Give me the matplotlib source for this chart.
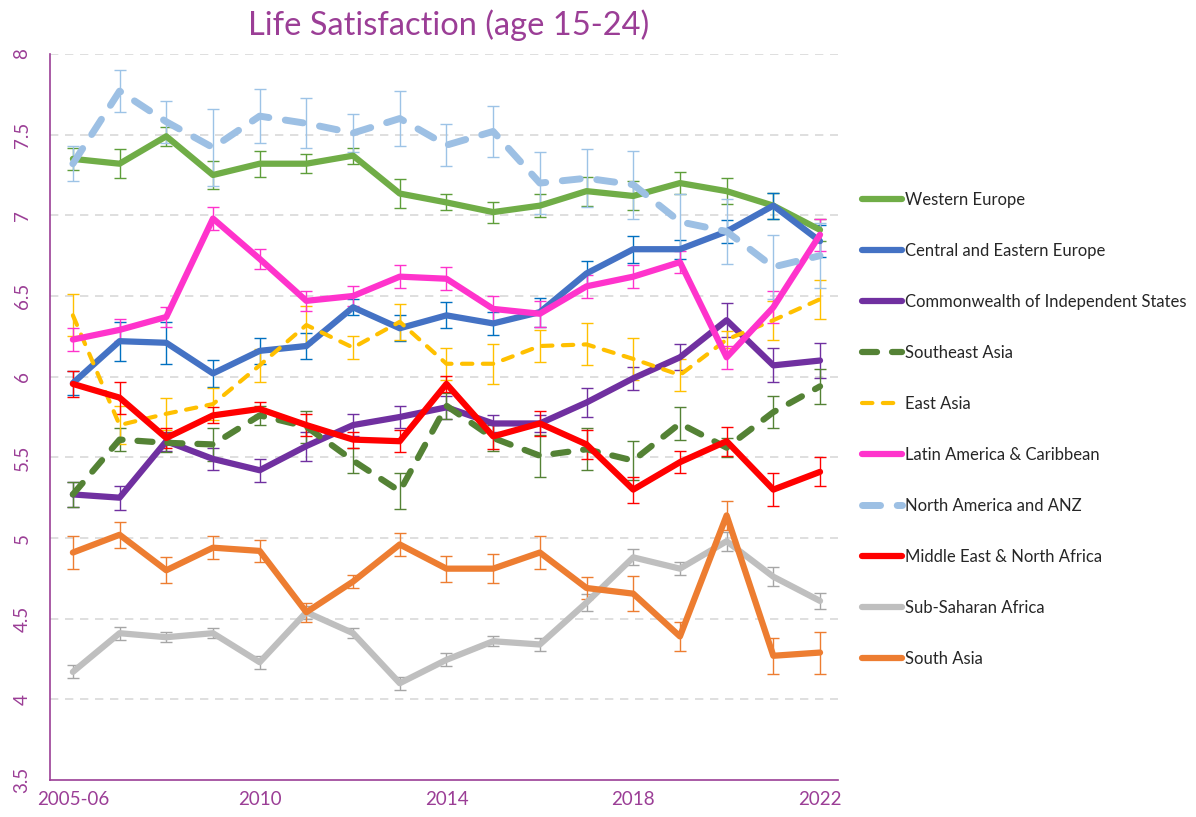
import matplotlib
matplotlib.use("Agg")
import matplotlib.pyplot as plt
from matplotlib.lines import Line2D

years = list(range(2006, 2023))
xtick_years = [2006, 2010, 2014, 2018, 2022]
xtick_labels = ["2005-06", "2010", "2014", "2018", "2022"]
yticks = [3.5, 4, 4.5, 5, 5.5, 6, 6.5, 7, 7.5, 8]
ytick_labels = ["3.5", "4", "4.5", "5", "5.5", "6", "6.5", "7", "7.5", "8"]

western_europe = [7.35, 7.32, 7.49, 7.25, 7.32, 7.32, 7.37, 7.135, 7.08, 7.02, 7.06, 7.15, 7.12, 7.20, 7.15, 7.06, 6.91]
western_europe_err = [0.07, 0.09, 0.06, 0.085, 0.08, 0.06, 0.05, 0.09, 0.05, 0.065, 0.07, 0.09, 0.09, 0.07, 0.08, 0.08, 0.07]

central_eastern_europe = [5.96, 6.22, 6.21, 6.02, 6.16, 6.19, 6.43, 6.30, 6.38, 6.33, 6.40, 6.64, 6.79, 6.79, 6.90, 7.06, 6.84]
central_eastern_europe_err = [0.075, 0.12, 0.13, 0.085, 0.08, 0.08, 0.05, 0.08, 0.08, 0.07, 0.09, 0.08, 0.085, 0.06, 0.07, 0.08, 0.1]

cis = [5.27, 5.25, 5.60, 5.49, 5.42, 5.57, 5.70, 5.75, 5.81, 5.71, 5.71, 5.84, 5.99, 6.12, 6.35, 6.07, 6.10]
cis_err = [0.08, 0.075, 0.06, 0.07, 0.07, 0.09, 0.07, 0.07, 0.07, 0.05, 0.05, 0.09, 0.07, 0.08, 0.105, 0.105, 0.11]

southeast_asia = [5.27, 5.61, 5.59, 5.58, 5.76, 5.69, 5.48, 5.29, 5.82, 5.62, 5.51, 5.55, 5.48, 5.71, 5.56, 5.78, 5.94]
southeast_asia_err = [0.08, 0.07, 0.06, 0.1, 0.06, 0.1, 0.08, 0.11, 0.08, 0.08, 0.13, 0.13, 0.12, 0.1, 0.06, 0.1, 0.11]

east_asia = [6.38, 5.70, 5.77, 5.83, 6.07, 6.32, 6.18, 6.34, 6.08, 6.08, 6.19, 6.20, 6.11, 6.01, 6.23, 6.35, 6.48]
east_asia_err = [0.13, 0.12, 0.1, 0.1, 0.1, 0.12, 0.07, 0.11, 0.1, 0.125, 0.1, 0.13, 0.13, 0.1, 0.05, 0.12, 0.12]

latin_america = [6.23, 6.29, 6.37, 6.98, 6.73, 6.47, 6.50, 6.62, 6.607, 6.42, 6.39, 6.56, 6.62, 6.71, 6.12, 6.43, 6.88]
latin_america_err = [0.07, 0.07, 0.06, 0.07, 0.06, 0.06, 0.06, 0.07, 0.07, 0.08, 0.08, 0.07, 0.07, 0.07, 0.07, 0.1, 0.1]

north_america_anz = [7.32, 7.77, 7.58, 7.42, 7.615, 7.57, 7.51, 7.60, 7.435, 7.52, 7.20, 7.23, 7.19, 6.96, 6.90, 6.68, 6.75]
north_america_anz_err = [0.11, 0.13, 0.13, 0.24, 0.165, 0.155, 0.12, 0.17, 0.13, 0.16, 0.19, 0.18, 0.21, 0.17, 0.2, 0.2, 0.2]

mena = [5.955, 5.87, 5.62, 5.76, 5.80, 5.70, 5.61, 5.60, 5.955, 5.63, 5.71, 5.58, 5.30, 5.47, 5.60, 5.30, 5.41]
mena_err = [0.08, 0.1, 0.06, 0.05, 0.04, 0.07, 0.05, 0.07, 0.05, 0.08, 0.08, 0.09, 0.08, 0.07, 0.09, 0.1, 0.09]

sub_saharan_africa = [4.17, 4.41, 4.385, 4.41, 4.23, 4.54, 4.41, 4.10, 4.245, 4.36, 4.34, 4.60, 4.88, 4.81, 4.98, 4.76, 4.61]
sub_saharan_africa_err = [0.04, 0.04, 0.03, 0.03, 0.04, 0.04, 0.03, 0.04, 0.04, 0.03, 0.04, 0.05, 0.05, 0.04, 0.06, 0.06, 0.05]

south_asia = [4.91, 5.02, 4.80, 4.94, 4.92, 4.54, 4.73, 4.96, 4.81, 4.81, 4.91, 4.69, 4.655, 4.39, 5.14, 4.27, 4.29]
south_asia_err = [0.1, 0.08, 0.08, 0.07, 0.07, 0.06, 0.04, 0.07, 0.08, 0.09, 0.1, 0.07, 0.11, 0.09, 0.09, 0.11, 0.13]

labels = ["Western Europe", "Central and Eastern Europe", "Commonwealth of Independent States",
          "Southeast Asia", "East Asia", "Latin America & Caribbean", "North America and ANZ",
          "Middle East & North Africa", "Sub-Saharan Africa", "South Asia"]
series = [western_europe, central_eastern_europe, cis, southeast_asia, east_asia,
          latin_america, north_america_anz, mena, sub_saharan_africa, south_asia]
errors = [western_europe_err, central_eastern_europe_err, cis_err, southeast_asia_err, east_asia_err,
          latin_america_err, north_america_anz_err, mena_err, sub_saharan_africa_err, south_asia_err]

line_colors = ["#70AD47", "#4472C4", "#7030A0", "#548235", "#FFC000",
               "#FF33CC", "#9DC0E4", "#FF0000", "#BFBFBF", "#ED7D31"]
err_colors = ["#5E9E3A", "#0070C0", "#7030A0", "#548235", "#FFC000",
              "#FF33CC", "#9DC3E6", "#FF0000", "#A6A6A6", "#ED7D31"]
styles = [
    dict(lw=4.5, ls="-"),
    dict(lw=4.5, ls="-"),
    dict(lw=4.5, ls="-"),
    dict(lw=4.5, ls=(0, (2.4, 2.4))),
    dict(lw=3.0, ls=(0, (2.5, 2.5))),
    dict(lw=4.5, ls="-"),
    dict(lw=5.0, ls=(0, (2.6, 2.4))),
    dict(lw=4.5, ls="-"),
    dict(lw=4.5, ls="-"),
    dict(lw=4.5, ls="-"),
]

purple = "#9B3E96"
plt.rcParams['font.family'] = ['Lato', 'DejaVu Sans']

fig = plt.figure(figsize=(11.96, 8.17), dpi=100)
ax = fig.add_axes([50 / 1196, (817 - 780) / 817, (838 - 50) / 1196, (780 - 54) / 817])

for i in range(len(series)):
    ax.errorbar(years, series[i], yerr=errors[i], fmt="none", ecolor=err_colors[i],
                elinewidth=1.0, capsize=4, capthick=1.0, zorder=2 + i * 0.1)
    ax.plot(years, series[i], color=line_colors[i], lw=styles[i]["lw"], ls=styles[i]["ls"],
            solid_capstyle="round", dash_capstyle="round", solid_joinstyle="round",
            zorder=3 + i * 0.1)

ax.set_xlim(2005.51, 2022.385)
ax.set_ylim(3.5, 8)
ax.set_xticks(xtick_years)
ax.set_xticklabels(xtick_labels)
ax.set_yticks(yticks)
ax.set_yticklabels(ytick_labels, rotation=90, va="center")
ax.tick_params(axis="both", length=0, colors=purple, labelsize=13.5)
ax.tick_params(axis="y", pad=14)
ax.tick_params(axis="x", pad=8)
for lab in ax.get_xticklabels() + ax.get_yticklabels():
    lab.set_color(purple)

for y in yticks[1:]:
    ax.axhline(y, color="#D9D9D9", lw=1.2, ls=(0, (5, 4)), zorder=0)

for s in ["top", "right"]:
    ax.spines[s].set_visible(False)
for s in ["left", "bottom"]:
    ax.spines[s].set_color(purple)
    ax.spines[s].set_linewidth(1.2)

fig.text(449 / 1196, 1 - 25 / 817, "Life Satisfaction (age 15-24)", ha="center", va="center",
         fontsize=23.5, color=purple)

handles = []
for i in range(len(series)):
    handles.append(Line2D([0], [0], color=line_colors[i], lw=styles[i]["lw"], ls=styles[i]["ls"],
                          solid_capstyle="round", dash_capstyle="round"))
leg = fig.legend(handles, labels, loc="upper left", bbox_to_anchor=(862 / 1196, 1 - 192 / 817),
                 frameon=False, fontsize=12, handlelength=2.4, handletextpad=0.2,
                 labelspacing=2.1, borderaxespad=0, borderpad=0)
for t in leg.get_texts():
    t.set_color("#262626")

fig.savefig("out.png", dpi=100)
